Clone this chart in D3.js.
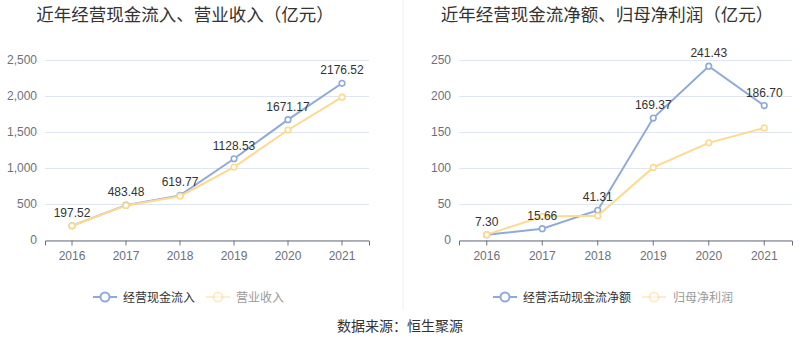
<!DOCTYPE html>
<html><head><meta charset="utf-8">
<script src="https://cdn.jsdelivr.net/npm/d3@7"></script>
<style>body{margin:0;background:#fff;}svg{display:block;font-family:"Liberation Sans",Arial,"Noto Sans CJK SC",sans-serif;}</style>
</head><body>
<svg id="c" width="800" height="358"></svg>
<script>
const years = ["2016","2017","2018","2019","2020","2021"];
const cashIn = [197.52, 483.48, 619.77, 1128.53, 1671.17, 2176.52];
const revenue = [198, 479, 608, 1013, 1528, 1984];
const netCash = [7.30, 15.66, 41.31, 169.37, 241.43, 186.70];
const netProfit = [7.4, 32.7, 33.6, 100.8, 134.9, 155.6];
const leftTicks = [0, 500, 1000, 1500, 2000, 2500];
const rightTicks = [0, 50, 100, 150, 200, 250];

const svg = d3.select("#c");
const BLUE = "#8eaadc", YEL = "#ffd98e";
const cjk = '"Noto Sans CJK SC", sans-serif';

svg.append("line").attr("x1",403).attr("x2",403).attr("y1",0).attr("y2",310).attr("stroke","#eeeeee");

function panel(o){
  const g = svg.append("g");
  g.append("text").attr("x",o.titleX).attr("y",21).attr("text-anchor","middle")
    .attr("font-size",17.5).attr("fill","#333").style("font-family",cjk).text(o.title);
  const x = d3.scaleBand().domain(years).range([o.x0,o.x1]);
  const y = d3.scaleLinear().domain([0,o.max]).range([240,60]);
  g.selectAll(".grid").data(o.ticks).join("line")
    .attr("x1",o.x0).attr("x2",o.x1).attr("y1",d=>y(d)+0.5).attr("y2",d=>y(d)+0.5)
    .attr("stroke","#e0e6f1");
  const ya = d3.axisLeft(y).tickValues(o.ticks).tickSize(0).tickPadding(8).tickFormat(d3.format(","));
  const yg = g.append("g").attr("transform",`translate(${o.x0},0)`).call(ya);
  yg.select(".domain").remove();
  yg.selectAll("text").attr("fill","#6e7079").attr("font-size",12).style("font-family",'"Liberation Sans",Arial');
  const xa = d3.axisBottom(x).tickSize(5).tickPadding(6);
  const xg = g.append("g").attr("transform",`translate(0,240.5)`).call(xa);
  xg.select(".domain").attr("stroke","#6e7079");
  xg.selectAll(".tick line").attr("stroke","#6e7079");
  xg.selectAll("text").attr("fill","#6e7079").attr("font-size",12).style("font-family",'"Liberation Sans",Arial');
  const cx = d=>x(d)+x.bandwidth()/2;
  function series(vals,color){
    const line = d3.line().x((d,i)=>cx(years[i])).y(d=>y(d));
    g.append("path").datum(vals).attr("d",line).attr("fill","none").attr("stroke",color).attr("stroke-width",2);
    g.selectAll(null).data(vals).join("circle").attr("cx",(d,i)=>cx(years[i])).attr("cy",d=>y(d))
      .attr("r",2.8).attr("fill","#fff").attr("stroke",color).attr("stroke-width",1.6);
  }
  series(o.s1,BLUE);
  series(o.s2,YEL);
  g.selectAll(null).data(o.s1).join("text").attr("x",(d,i)=>cx(years[i])).attr("y",d=>y(d)-9)
    .attr("text-anchor","middle").attr("font-size",12).attr("fill","#333")
    .text(d=>d.toFixed(2));
  const L = o.legend;
  [[L[0],BLUE,"#333",1],[L[1],YEL,"#999",0.45]].forEach(([it,col,tc,op])=>{
    g.append("line").attr("x1",it.ix).attr("x2",it.ix+24).attr("y1",297).attr("y2",297)
      .attr("stroke",col).attr("stroke-width",2).attr("opacity",op);
    g.append("circle").attr("cx",it.ix+12).attr("cy",297).attr("r",4.5).attr("fill","#fff")
      .attr("stroke",col).attr("stroke-width",2).attr("opacity",op);
    g.append("text").attr("x",it.tx).attr("y",301.5).attr("font-size",12).attr("fill",tc)
      .style("font-family",cjk).text(it.label);
  });
}

panel({title:"近年经营现金流入、营业收入（亿元）", titleX:185, x0:45, x1:369, max:2500, ticks:leftTicks,
  s1:cashIn, s2:revenue,
  legend:[{ix:93,tx:123,label:"经营现金流入"},{ix:206,tx:236,label:"营业收入"}]});
panel({title:"近年经营现金流净额、归母净利润（亿元）", titleX:607, x0:459, x1:792, max:250, ticks:rightTicks,
  s1:netCash, s2:netProfit,
  legend:[{ix:493,tx:523,label:"经营活动现金流净额"},{ix:642,tx:673,label:"归母净利润"}]});

svg.append("text").attr("x",400).attr("y",331).attr("text-anchor","middle").attr("font-size",14)
  .attr("fill","#333").style("font-family",cjk).text("数据来源：恒生聚源");
</script>
</body></html>
